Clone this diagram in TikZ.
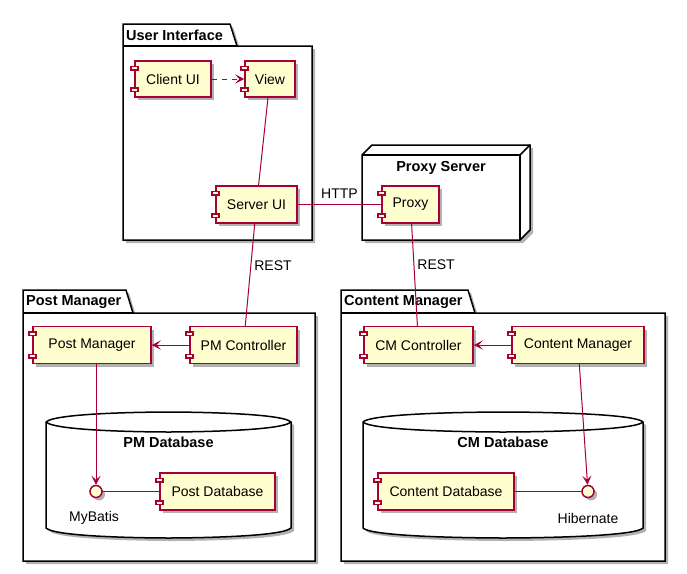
\documentclass[tikz,border=0pt]{standalone}
\usepackage{fontspec}
\setmainfont{Liberation Sans}
\usetikzlibrary{arrows.meta,shadows,calc}
\definecolor{umlred}{HTML}{A80036}
\definecolor{umlfill}{HTML}{FEFECE}
\tikzset{
  shad/.style={drop shadow={shadow xshift=3pt,shadow yshift=-3pt,opacity=0.3,fill=black}},
  comp/.style={draw=umlred,fill=umlfill,line width=1.5pt,rectangle,inner sep=0pt,
    font=\fontsize{14}{16}\selectfont,shad},
  compicon/.style={draw=umlred,fill=umlfill,line width=1.5pt},
  iface/.style={circle,draw=umlred,fill=umlfill,line width=1.5pt,minimum size=12pt,inner sep=0pt,shad},
  pkg/.style={draw=black,fill=white,line width=1.5pt,shad},
  pkgline/.style={draw=black,line width=1.5pt},
  ttl/.style={font=\fontsize{14.5}{16}\selectfont\bfseries,inner sep=0pt},
  lbl/.style={font=\fontsize{14}{16}\selectfont,inner sep=0pt},
  conn/.style={draw=umlred,line width=1pt},
  arr/.style={conn,-{Stealth[length=9pt,width=9pt,inset=4pt]}},
}
\newcommand\umlicons[1]{%
  \draw[compicon] ($(#1.north west)+(-3.5,6)$) rectangle ++(7,3.5);
  \draw[compicon] ($(#1.south west)+(-3.5,-10)$) rectangle ++(7,3.5);
}
\begin{document}
\begin{tikzpicture}[x=1pt,y=-1pt]
\useasboundingbox (0,0) rectangle (687,573);
\fill[white] (0,0) rectangle (687,573);

% packages
\path[pkg] (123,24) -- (230,24) -- (237,46) -- (312,46) -- (312,240) -- (123,240) -- cycle;
\draw[pkgline] (123,46) -- (237,46);
\node[ttl,anchor=west] (uititle) at (126,35.5) {User Interface};

\path[pkg] (23,290) -- (126,290) -- (133,313) -- (315,313) -- (315,561) -- (23,561) -- cycle;
\draw[pkgline] (23,313) -- (133,313);
\node[ttl,anchor=west] (pmtitle) at (26,302) {Post Manager};

\path[pkg] (341,290) -- (468,290) -- (475,313) -- (665,313) -- (665,561) -- (341,561) -- cycle;
\draw[pkgline] (341,313) -- (475,313);
\node[ttl,anchor=west] (cmtitle) at (344,302) {Content Manager};

% proxy server node (3D box)
\path[pkg] (362,155) -- (372,145) -- (530,145) -- (530,230) -- (520,240) -- (362,240) -- cycle;
\draw[pkgline] (362,155) -- (520,155) -- (520,240);
\draw[pkgline] (520,155) -- (530,145);
\node[ttl] (pstitle) at (441,168) {Proxy Server};

% databases
\path[pkg] (46,422) .. controls (56,412) and (168.5,412) .. (168.5,412)
  .. controls (168.5,412) and (281,412) .. (291,422) -- (291,528)
  .. controls (281,538) and (168.5,538) .. (168.5,538)
  .. controls (168.5,538) and (56,538) .. (46,528) -- cycle;
\draw[pkgline] (46,422) .. controls (56,432) and (168.5,432) .. (168.5,432)
  .. controls (168.5,432) and (281,432) .. (291,422);
\node[ttl] (pmdbtitle) at (168.5,442) {PM Database};

\path[pkg] (363,422) .. controls (373,412) and (503,412) .. (503,412)
  .. controls (503,412) and (633,412) .. (643,422) -- (643,528)
  .. controls (633,538) and (503,538) .. (503,538)
  .. controls (503,538) and (373,538) .. (363,528) -- cycle;
\draw[pkgline] (363,422) .. controls (373,432) and (503,432) .. (503,432)
  .. controls (503,432) and (633,432) .. (643,422);
\node[ttl] (cmdbtitle) at (503,442) {CM Database};

% components
\node[comp,minimum width=76pt,minimum height=36pt] (clientui) at (173,79) {Client UI};
\node[comp,minimum width=50pt,minimum height=36pt] (view) at (270,79) {View};
\node[comp,minimum width=81pt,minimum height=37pt] (serverui) at (256.5,204.5) {Server UI};
\node[comp,minimum width=57pt,minimum height=37pt] (proxy) at (410.5,204.5) {Proxy};
\node[comp,minimum width=118pt,minimum height=37pt] (postmgr) at (92,345) {Post Manager};
\node[comp,minimum width=107pt,minimum height=37pt] (pmctrl) at (243.5,345) {PM Controller};
\node[comp,minimum width=109pt,minimum height=37pt] (cmctrl) at (418.5,345) {CM Controller};
\node[comp,minimum width=132pt,minimum height=37pt] (contentmgr) at (578,345) {Content Manager};
\node[comp,minimum width=115pt,minimum height=37pt] (postdb) at (217.5,491.5) {Post Database};
\node[comp,minimum width=136pt,minimum height=37pt] (contentdb) at (446,491.5) {Content Database};
\foreach \n in {clientui,view,serverui,proxy,postmgr,pmctrl,cmctrl,contentmgr,postdb,contentdb}{\umlicons{\n}}

% interfaces
\node[iface] (mybatis) at (96,491.5) {};
\node[lbl] (mybatislbl) at (94,518) {MyBatis};
\node[iface] (hibernate) at (588,491.5) {};
\node[lbl] (hibernatelbl) at (588,518) {Hibernate};

% connectors
\draw[arr,dash pattern=on 5pt off 5pt] (clientui) -- (view);
\draw[conn] (view) -- (serverui);
\draw[conn] (serverui) -- node[lbl,above=6pt] (httplbl) {HTTP} (proxy);
\draw[conn] (serverui) -- node[lbl,right=3pt,pos=0.41] (rest1) {REST} (pmctrl);
\draw[conn] (proxy) -- node[lbl,right=3pt,pos=0.4] (rest2) {REST} (cmctrl);
\draw[arr] (pmctrl) -- (postmgr);
\draw[arr] (postmgr.south -| mybatis.north) -- (mybatis);
\draw[conn] (mybatis) -- (postdb);
\draw[arr] (contentmgr) -- (cmctrl);
\draw[arr] (contentmgr) -- (hibernate);
\draw[conn] (contentdb) -- (hibernate);
\end{tikzpicture}
\end{document}
